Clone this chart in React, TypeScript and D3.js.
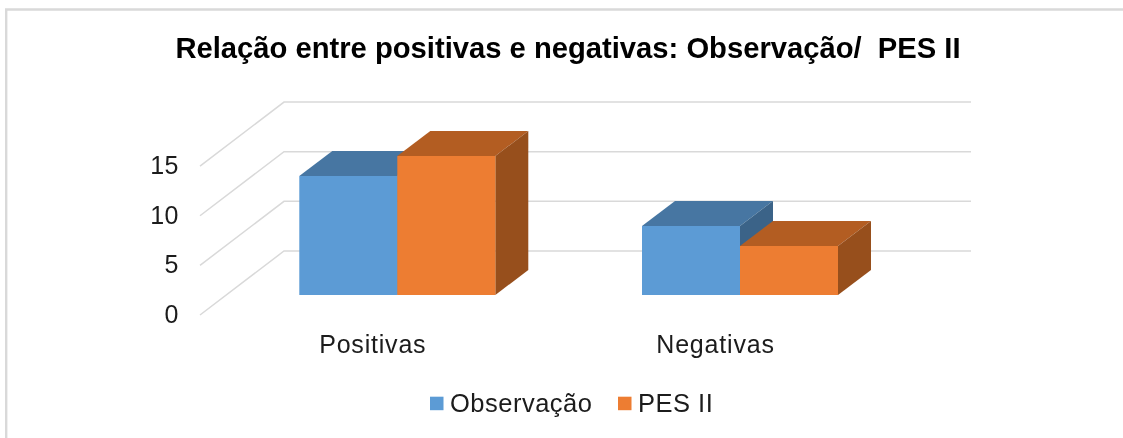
import React from "react";
import * as d3 from "d3";

const categories = ["Positivas", "Negativas"];
const seriesNames = ["Observação", "PES II"];
const observacao = [12, 7];
const pesII = [14, 5];
const yTicks = [0, 5, 10, 15];
const titleText = "Relação entre positivas e negativas: Observação/  PES II";

const W = 1123, H = 438;
const frontColors = ["#5B9BD5", "#ED7D31"];
const topColors = ["#4676A2", "#B35D22"];
const sideColors = ["#3B6488", "#974F1D"];

const FONT = "'Liberation Sans', Arial, sans-serif";

const frontLeft = 200, backLeft = 284, gridRight = 971;
const frontZero = 315, backZero = 251;
const barZero = 295.3;
const depthX = 33, depthY = 25;
const barW = 98;

const y = d3.scaleLinear().domain([0, 15]).range([0, 148.9]);
const xCenter = d3.scalePoint<string>().domain(categories).range([397.3, 740]);
const labelOffset = -24.5;
const legendX = [430, 618];

export default function App() {
  const series = [observacao, pesII];
  const poly = (pts: number[][]) => pts.map((p) => p.join(",")).join(" ");
  return (
    <svg width={W} height={H} viewBox={`0 0 ${W} ${H}`} style={{ position: "absolute", left: 0, top: 0, background: "#fff" }}>
      <defs>
        <filter id="soft" x="-5%" y="-5%" width="110%" height="110%">
          <feGaussianBlur stdDeviation="0.5" />
        </filter>
      </defs>
      <g filter="url(#soft)">
        <path d={`M6.2 ${H + 20} V9.5 H${W + 20}`} fill="none" stroke="#D9D9D9" strokeWidth={2.4} />
        {yTicks.map((t) => (
          <path key={t} fill="none" stroke="#D9D9D9" strokeWidth={1.5}
            d={`M${frontLeft} ${frontZero - y(t)} L${backLeft} ${backZero - y(t)} H${gridRight}`} />
        ))}
        {categories.map((c, ci) => {
          const x0 = (xCenter(c) as number) - barW;
          return (
            <g key={c}>
              {[0, 1].map((si) => {
                const v = series[si][ci];
                const top = Math.round(barZero - y(v));
                const bottom = Math.round(barZero);
                const xL = x0 + si * barW, xR = xL + barW;
                return (
                  <g key={si}>
                    <polygon fill={topColors[si]} points={poly([[xL, top], [xR, top], [xR + depthX, top - depthY], [xL + depthX, top - depthY]])} />
                    <polygon fill={sideColors[si]} points={poly([[xR, top], [xR + depthX, top - depthY], [xR + depthX, bottom - depthY], [xR, bottom]])} />
                    <rect x={xL} y={top} width={barW} height={bottom - top} fill={frontColors[si]} />
                  </g>
                );
              })}
            </g>
          );
        })}
        <text x={568} y={58} textAnchor="middle" fontFamily={FONT} fontSize={29.2} fontWeight={700} fill="#000" xmlSpace="preserve" style={{ whiteSpace: "pre" }}>{titleText}</text>
        {yTicks.map((t) => (
          <text key={t} x={179} y={frontZero - y(t) + 8} textAnchor="end" fontFamily={FONT} fontSize={25} letterSpacing={0.5} fill="#1a1a1a">{t}</text>
        ))}
        {categories.map((c) => (
          <text key={c} x={(xCenter(c) as number) + labelOffset} y={353} textAnchor="middle" fontFamily={FONT} fontSize={25} letterSpacing={0.8} fill="#1a1a1a">{c}</text>
        ))}
        {seriesNames.map((s, i) => (
          <g key={s}>
            <rect x={legendX[i]} y={396.7} width={13.5} height={13.5} fill={frontColors[i]} />
            <text x={legendX[i] + 20} y={411.5} fontFamily={FONT} fontSize={25.5} letterSpacing={0.5} fill="#1a1a1a">{s}</text>
          </g>
        ))}
      </g>
    </svg>
  );
}
